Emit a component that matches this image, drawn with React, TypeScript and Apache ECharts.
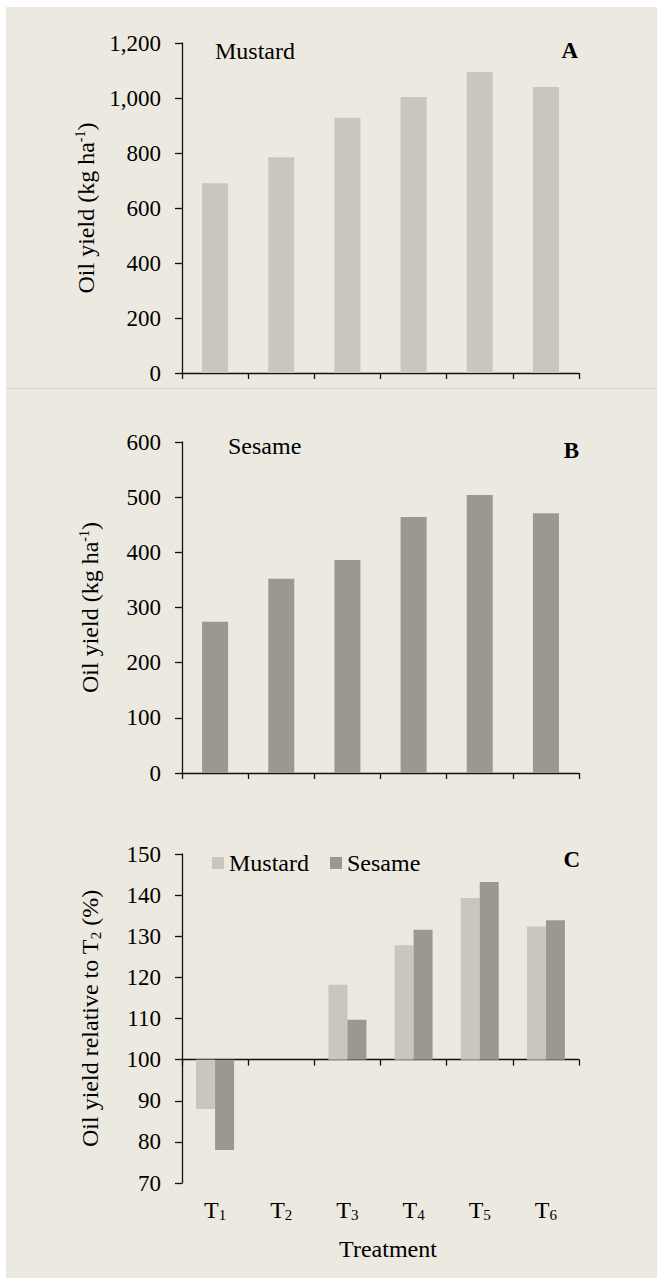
import React, { useEffect, useRef } from "react";
import * as echarts from "echarts";

// ---- data ----
const treatments = ["T1", "T2", "T3", "T4", "T5", "T6"];
const mustardYield = [690, 785, 928, 1004, 1095, 1040];
const sesameYield = [274, 352, 386, 464, 504, 471];
const mustardRelative = [88, 100, 118.2, 127.8, 139.3, 132.4];
const sesameRelative = [78, 100, 109.7, 131.6, 143.2, 133.9];
const baselineRelative = 100;

// ---- styles ----
const FONT = "'Liberation Serif', 'Times New Roman', serif";
const BG = "#ECE9E0";
const MUSTARD = "#C8C6BD";
const SESAME = "#9B9890";
const AXIS = { color: "#111", width: 1.3 };

const rich = {
  a: { fontFamily: FONT, fontSize: 24, lineHeight: 26, color: "#000" },
  sup: { fontFamily: FONT, fontSize: 14, lineHeight: 14, verticalAlign: "top", color: "#000" },
  sub: { fontFamily: FONT, fontSize: 15, lineHeight: 12, verticalAlign: "bottom", color: "#000" },
  t: { fontFamily: FONT, fontSize: 24, lineHeight: 24, color: "#000" },
};

const gridBox = (top: number, height: number) => ({
  left: 182,
  top,
  width: 397,
  height,
  containLabel: false,
});

const catAxis = (gridIndex: number) => ({
  type: "category",
  gridIndex,
  data: treatments,
  boundaryGap: true,
  axisLine: { show: true, onZero: true, lineStyle: AXIS },
  axisTick: { show: true, length: 6, lineStyle: AXIS, alignWithLabel: false, interval: 0 },
  axisLabel: { show: false },
  splitLine: { show: false },
});

const valAxis = (gridIndex: number, min: number, max: number, interval: number, name: string, nameGap: number, fmt: (v: number) => string) => ({
  type: "value",
  gridIndex,
  min,
  max,
  interval,
  splitLine: { show: false },
  axisLine: { show: true, lineStyle: AXIS },
  axisTick: { show: true, length: 7, lineStyle: AXIS },
  axisLabel: { margin: 21, fontFamily: FONT, fontSize: 23, color: "#000", formatter: fmt },
  name,
  nameLocation: "middle",
  nameRotate: 90,
  nameGap,
  nameTextStyle: { fontFamily: FONT, fontSize: 24, color: "#000", rich },
});

export default function App() {
  const ref = useRef<HTMLDivElement>(null);

  useEffect(() => {
    const chart = echarts.init(ref.current!, null, { renderer: "svg" });
    const option: any = {
      animation: false,
      textStyle: { fontFamily: FONT },
      grid: [gridBox(43, 330), gridBox(442, 331), gridBox(854, 329)],
      legend: {
        data: ["Mustard", "Sesame"],
        left: 207,
        top: 846,
        icon: "rect",
        itemWidth: 12,
        itemHeight: 12,
        itemGap: 21,
        textStyle: { fontFamily: FONT, fontSize: 24, color: "#000" },
      },
      xAxis: [
        catAxis(0),
        catAxis(1),
        catAxis(2),
        {
          type: "category",
          gridIndex: 2,
          data: treatments,
          position: "bottom",
          axisLine: { show: false, onZero: false },
          axisTick: { show: false },
          splitLine: { show: false },
          axisLabel: {
            interval: 0,
            margin: 15,
            formatter: (v: string) => `{t|${v[0]}}{sub|${v.slice(1)}}`,
            rich,
          },
          name: "Treatment",
          nameLocation: "middle",
          nameGap: 54,
          nameTextStyle: { fontFamily: FONT, fontSize: 24, color: "#000", padding: [0, 0, 0, 15] },
        },
      ],
      yAxis: [
        valAxis(0, 0, 1200, 200, "{a|Oil yield (kg ha}{sup|-1}{a|)}", 73, (v: number) => v.toLocaleString("en-US")),
        valAxis(1, 0, 600, 100, "{a|Oil yield (kg ha}{sup|-1}{a|)}", 79, (v: number) => String(v)),
        valAxis(2, 70 - baselineRelative, 150 - baselineRelative, 10, "{a|Oil yield relative to T}{sub|2}{a| (%)}", 79, (v: number) => String(v + baselineRelative)),
      ],
      series: [
        {
          name: "Mustard oil yield",
          type: "bar",
          xAxisIndex: 0,
          yAxisIndex: 0,
          data: mustardYield,
          barWidth: 26,
          itemStyle: { color: MUSTARD },
        },
        {
          name: "Sesame oil yield",
          type: "bar",
          xAxisIndex: 1,
          yAxisIndex: 1,
          data: sesameYield,
          barWidth: 26,
          itemStyle: { color: SESAME },
        },
        {
          name: "Mustard",
          type: "bar",
          xAxisIndex: 2,
          yAxisIndex: 2,
          data: mustardRelative.map((v) => +(v - baselineRelative).toFixed(2)),
          barWidth: 19,
          barGap: "0%",
          itemStyle: { color: MUSTARD },
        },
        {
          name: "Sesame",
          type: "bar",
          xAxisIndex: 2,
          yAxisIndex: 2,
          data: sesameRelative.map((v) => +(v - baselineRelative).toFixed(2)),
          barWidth: 19,
          barGap: "0%",
          itemStyle: { color: SESAME },
        },
      ],
      graphic: [
        {
          type: "line",
          silent: true,
          shape: { x1: 6, y1: 388.5, x2: 657, y2: 388.5 },
          style: { stroke: "#DAD4C4", lineWidth: 1 },
        },
        { type: "text", x: 215, y: 51, style: { text: "Mustard", fontFamily: FONT, fontSize: 24, fill: "#000", verticalAlign: "middle", align: "left" } },
        { type: "text", x: 578, y: 50, style: { text: "A", fontFamily: FONT, fontSize: 23, fontWeight: "bold", fill: "#000", verticalAlign: "middle", align: "right" } },
        { type: "text", x: 228, y: 446, style: { text: "Sesame", fontFamily: FONT, fontSize: 24, fill: "#000", verticalAlign: "middle", align: "left" } },
        { type: "text", x: 579, y: 450, style: { text: "B", fontFamily: FONT, fontSize: 23, fontWeight: "bold", fill: "#000", verticalAlign: "middle", align: "right" } },
        { type: "text", x: 580, y: 859, style: { text: "C", fontFamily: FONT, fontSize: 23, fontWeight: "bold", fill: "#000", verticalAlign: "middle", align: "right" } },
      ],
    };
    chart.setOption(option);
    return () => chart.dispose();
  }, []);

  return (
    <div style={{ position: "fixed", left: 0, top: 0, width: 657, height: 1278, background: "#fff" }}>
      <div style={{ position: "absolute", left: 6, top: 7, width: 651, height: 1271, background: BG }} />
      <div ref={ref} style={{ position: "absolute", left: 0, top: 0, width: 657, height: 1278 }} />
    </div>
  );
}
